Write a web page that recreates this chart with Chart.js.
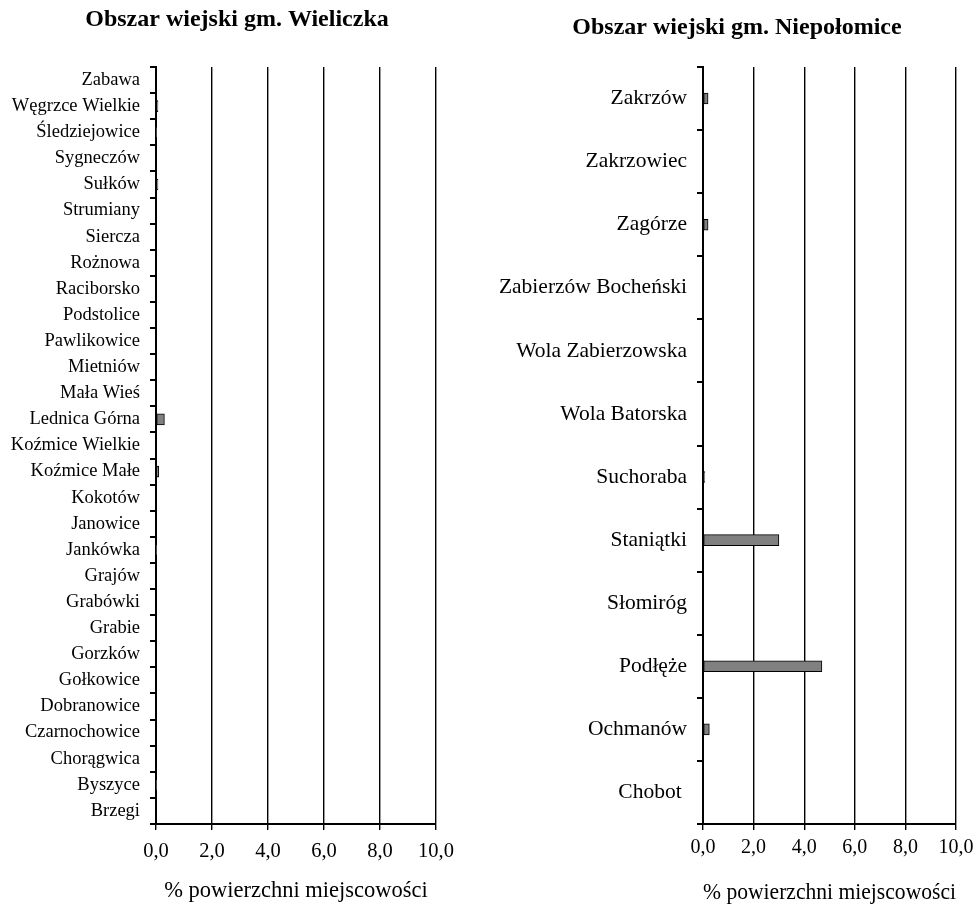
<!DOCTYPE html>
<html>
<head>
<meta charset="utf-8">
<script src="https://cdn.jsdelivr.net/npm/chart.js@4.4.1/dist/chart.umd.min.js"></script>
<style>
  html, body { margin: 0; padding: 0; background: #fff; }
  #wrap { position: relative; width: 980px; height: 907px; }
  #left { position: absolute; left: 0; top: 0; }
  #right { position: absolute; left: 490px; top: 0; }
</style>
</head>
<body>
<div id="wrap">
  <canvas id="left" width="490" height="907"></canvas>
  <canvas id="right" width="490" height="907"></canvas>
</div>
<script>
// Wieliczka (top to bottom)
const wieliczkaVillages = ["Zabawa", "Węgrzce Wielkie", "Śledziejowice", "Sygneczów", "Sułków", "Strumiany",
  "Siercza", "Rożnowa", "Raciborsko", "Podstolice", "Pawlikowice", "Mietniów", "Mała Wieś",
  "Lednica Górna", "Koźmice Wielkie", "Koźmice Małe", "Kokotów", "Janowice", "Jankówka", "Grajów",
  "Grabówki", "Grabie", "Gorzków", "Gołkowice", "Dobranowice", "Czarnochowice", "Chorągwica",
  "Byszyce", "Brzegi"]
const wieliczkaValues = [0, 0.07, 0.02, 0, 0.07, 0, 0, 0, 0, 0, 0, 0, 0,
  0.3, 0, 0.1, 0, 0, 0.02, 0, 0, 0, 0, 0, 0, 0, 0, 0.02, 0]

// Niepołomice (top to bottom)
const niepolomiceVillages = ["Zakrzów", "Zakrzowiec", "Zagórze", "Zabierzów Bocheński", "Wola Zabierzowska",
  "Wola Batorska", "Suchoraba", "Staniątki", "Słomiróg", "Podłęże", "Ochmanów", "Chobot "]
const niepolomiceValues = [0.2, 0, 0.2, 0, 0, 0, 0.07, 3.0, 0, 4.7, 0.25, 0]

const xTicks = [0, 2, 4, 6, 8, 10]
const axisTitle = "% powierzchni miejscowości"

const serif = "'Liberation Serif', 'Times New Roman', serif"

// nudge the title sideways after layout
const titleShift = {
  id: "titleShift",
  afterLayout(chart, args, o) {
    if (chart.titleBlock) {
      chart.titleBlock.left += o.dx
      chart.titleBlock.right += o.dx
    }
  },
}

function makeChart(id, title, labels, values, opts) {
  const titleLH = opts.titleSize * 1.2
  const axisLH = opts.axisSize * 1.2
  return new Chart(document.getElementById(id), {
    type: "bar",
    data: {
      labels: labels,
      datasets: [{
        data: values,
        backgroundColor: "#808080",
        borderColor: "#000",
        borderWidth: 1,
        barThickness: 11,
        borderSkipped: false,
      }],
    },
    plugins: [titleShift],
    options: {
      indexAxis: "y",
      responsive: false,
      animation: false,
      layout: { padding: { left: 0, right: opts.right, top: 0, bottom: 0 } },
      plugins: {
        legend: { display: false },
        tooltip: { enabled: false },
        titleShift: { dx: opts.titleDx },
        title: {
          display: true,
          text: title,
          color: "#000",
          font: { family: serif, size: opts.titleSize, weight: "bold" },
          padding: { top: opts.titleY - titleLH / 2, bottom: 67 - (opts.titleY + titleLH / 2) },
        },
      },
      scales: {
        x: {
          min: 0,
          max: 10,
          afterBuildTicks: (s) => { s.ticks = xTicks.map((v) => ({ value: v })) },
          afterFit: (s) => { s.height = 907 - 824 },
          grid: { color: "#000", lineWidth: 1.4, tickLength: 6 },
          border: { color: "#000", width: 2 },
          ticks: {
            color: "#000",
            padding: opts.xTickPad,
            font: { family: serif, size: opts.xTickSize },
            callback: (v) => v.toFixed(1).replace(".", ","),
          },
          title: {
            display: true,
            text: axisTitle,
            color: "#000",
            font: { family: serif, size: opts.axisSize },
            padding: { top: 0, bottom: 907 - opts.axisY - axisLH / 2 },
          },
        },
        y: {
          afterFit: (s) => { s.width = opts.yWidth },
          grid: { offset: true, drawOnChartArea: false, color: "#000", lineWidth: 2, tickLength: 6 },
          border: { color: "#000", width: 2 },
          ticks: {
            color: "#000",
            padding: 10,
            autoSkip: false,
            font: { family: serif, size: opts.yTickSize },
          },
        },
      },
    },
  })
}

makeChart("left", "Obszar wiejski gm. Wieliczka", wieliczkaVillages, wieliczkaValues, {
  right: 54, yWidth: 156, titleY: 20, titleDx: 19, titleSize: 24,
  yTickSize: 18.5, xTickSize: 20.5, xTickPad: 9, axisSize: 22.5, axisY: 891,
})
makeChart("right", "Obszar wiejski gm. Niepołomice", niepolomiceVillages, niepolomiceValues, {
  right: 24, yWidth: 213, titleY: 28, titleDx: 14, titleSize: 24,
  yTickSize: 21.5, xTickSize: 20, xTickPad: 6, axisSize: 24, axisY: 893,
})
</script>
</body>
</html>
